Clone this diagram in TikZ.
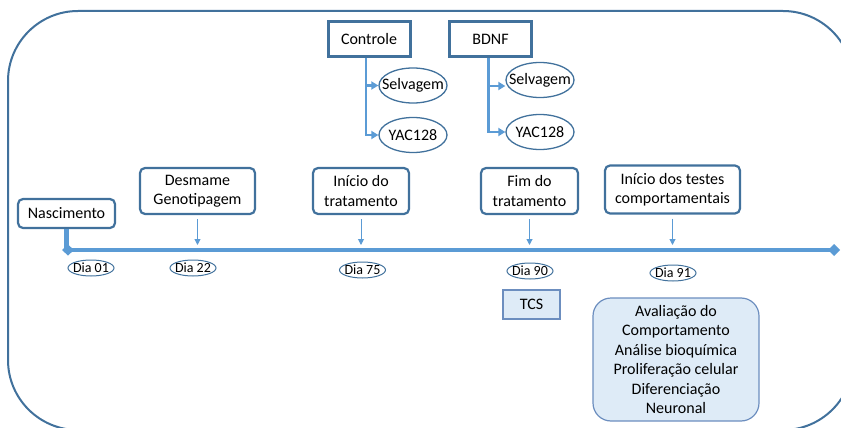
\documentclass[tikz,border=0pt]{standalone}
\usepackage{fontspec}
\setmainfont{Carlito}
\usetikzlibrary{positioning,arrows.meta,shapes.geometric}
\definecolor{azulEscuro}{HTML}{41719C}
\definecolor{azulLinha}{HTML}{5B9BD5}
\definecolor{azulClaro}{HTML}{DEEBF7}
\definecolor{azulBorda}{HTML}{6C8EBF}
\begin{document}
\begin{tikzpicture}[
        x=1pt, y=-1pt,
        texto/.style={align=center, font=\fontsize{16}{19.5}\selectfont, inner sep=2pt},
        caixa/.style={texto, rectangle, rounded corners=5pt, draw=azulEscuro, line width=2.2pt, fill=white},
        grupo/.style={texto, rectangle, draw=azulEscuro, line width=3pt, fill=white, minimum width=82pt, minimum height=35pt},
        elipse/.style={texto, ellipse, draw=azulEscuro, line width=1.3pt, inner xsep=-12pt, inner ysep=0pt, minimum width=68pt, minimum height=35pt},
        dia/.style={ellipse, draw=azulEscuro, line width=1pt, inner xsep=-6pt, inner ysep=0pt, font=\fontsize{14}{16}\selectfont, minimum width=46pt, minimum height=16pt},
        tcs/.style={texto, rectangle, fill=azulClaro, draw=azulBorda, line width=1.5pt, minimum width=57pt, minimum height=29pt},
        resultado/.style={texto, rectangle, rounded corners=18pt, fill=azulClaro, draw=azulBorda, line width=1.2pt, minimum width=166pt, minimum height=123pt},
        linhaTempo/.style={line width=4.5pt, draw=azulLinha},
        seta/.style={-{Triangle[length=6pt,width=6pt]}, line width=1pt, draw=azulLinha},
        ramo/.style={-{Triangle[length=7pt,width=8pt]}, line width=2.6pt, draw=azulLinha}
    ]
        \useasboundingbox (0,0) rectangle (841,428);
        \clip (0,0) rectangle (841,428);

        % Moldura
        \draw[draw=azulEscuro, line width=2pt, rounded corners=70pt] (8,11) rectangle (853,430);

        % Grupos de tratamento
        \node[grupo] (controle) at (369, 39.5) {Controle};
        \node[grupo] (bdnf) at (490.5, 39.5) {BDNF};
        \node[elipse] (selvC) at (413, 85.5) {Selvagem};
        \node[elipse] (yacC) at (413, 135) {YAC128};
        \node[elipse] (selvB) at (540, 80) {Selvagem};
        \node[elipse] (yacB) at (540, 132) {YAC128};

        \draw[ramo] ([xshift=-3pt]controle.south) |- (yacC.west);
        \draw[ramo] ([xshift=-3pt]controle.south |- selvC.west) -- (selvC.west);
        \draw[ramo] ([xshift=-2pt]bdnf.south) |- (yacB.west);
        \draw[ramo] ([xshift=-2pt,yshift=-6pt]bdnf.south |- selvB.west) -- ([yshift=-6pt]selvB.west);

        % Eventos
        \node[caixa, minimum width=97pt, minimum height=29pt] (nasc) at (66.5, 213.5) {Nascimento};
        \node[caixa, minimum width=115pt, minimum height=46pt] (desmame) at (197.5, 191) {Desmame\\Genotipagem};
        \node[caixa, minimum width=96pt, minimum height=46pt] (inicio) at (361, 191) {Início do\\tratamento};
        \node[caixa, minimum width=97pt, minimum height=46pt] (fim) at (529.5, 191) {Fim do\\tratamento};
        \node[caixa, minimum width=135pt, minimum height=48pt] (testes) at (672.5, 189.5) {Início dos testes\\comportamentais};

        % Linha do tempo
        \coordinate (t0) at (62, 250);
        \coordinate (t1) at (840, 250);
        \draw[linhaTempo] (nasc.south) -- (nasc.south |- t0);
        \draw[linhaTempo, {Diamond[length=12pt,width=11pt]}-{Diamond[length=12pt,width=12pt]}] (t0) -- (t1);

        \draw[seta] ([yshift=-4pt]desmame.south) -- ([yshift=5pt]desmame.south |- t0);
        \draw[seta] ([yshift=-4pt]inicio.south) -- ([yshift=5pt]inicio.south |- t0);
        \draw[seta] ([yshift=-4pt]fim.south) -- ([yshift=5pt]fim.south |- t0);
        \draw[seta] ([yshift=-4pt]testes.south) -- ([yshift=5pt]testes.south |- t0);

        % Dias
        \node[dia] (d01) at (91, 268) {Dia 01};
        \node[dia] (d22) at (193, 268) {Dia 22};
        \node[dia] (d75) at (362.5, 270) {Dia 75};
        \node[dia] (d90) at (530, 271) {Dia 90};
        \node[dia] (d91) at (673, 273) {Dia 91};

        % Resultados
        \node[tcs] (tcsbox) at (531.5, 304.5) {TCS};
        \node[resultado] (avaliacao) at (676, 359.5) {Avaliação do\\Comportamento\\Análise bioquímica\\Proliferação celular\\Diferenciação\\Neuronal};
    \end{tikzpicture}
\end{document}
